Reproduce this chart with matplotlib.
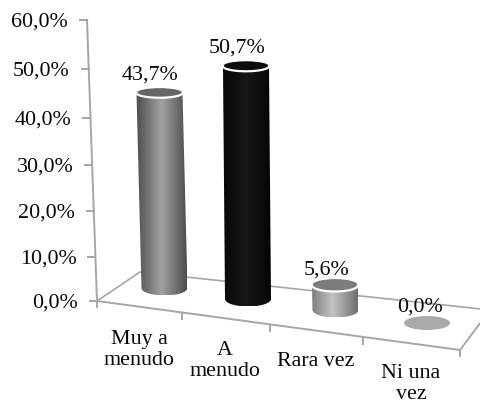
import numpy as np
import matplotlib

matplotlib.use("Agg")
import matplotlib.pyplot as plt
from matplotlib.patches import Ellipse, PathPatch
from matplotlib.path import Path

categories = ["Muy a\nmenudo", "A\nmenudo", "Rara vez", "Ni una\nvez"]
values = [43.7, 50.7, 5.6, 0.0]
value_labels = ["43,7%", "50,7%", "5,6%", "0,0%"]
tick_values = [0, 10, 20, 30, 40, 50, 60]
tick_labels = ["0,0%", "10,0%", "20,0%", "30,0%", "40,0%", "50,0%", "60,0%"]

# cylinder placement on the floor (pixels) and how much depth shrinks each one
base_x = [164.5, 248, 335.5, 427]
base_y = [288, 299, 310, 323]
depth = [0.97, 0.99, 1.0, 1.0]
half_w = 23
half_h = 7.5
# caps look flatter the higher they sit
cap_h = [4.8, 5.0, 6.2, 7.0]
lean = [-5, -2, -0.5, 0]
edge_tone = ["#4d4d4d", "#050505", "#6e6e6e", "#aaaaaa"]
mid_tone = ["#a2a2a2", "#181818", "#c4c4c4", "#aaaaaa"]
top_tone = ["#666666", "#0c0c0c", "#7c7c7c", "#aaaaaa"]
label_xy = [(150, 75), (237, 48), (327, 270), (420, 307)]
cat_xy = [(139, 350), (225, 361), (316, 362), (411, 384)]

GRID = "#a6a6a6"
INK = "#080808"
plt.rcParams["font.family"] = ["Liberation Serif", "DejaVu Serif"]


def value_height(v):
    # the vertical axis is foreshortened slightly towards the top
    return 4.383 * v + 0.005 * v**2


def axis_pos(v):
    y = 301 - value_height(v)
    return 97 - 10 * (301 - y) / 281, y


fig = plt.figure(figsize=(4.81, 4.05), dpi=100)
ax = fig.add_axes([0, 0, 1, 1])

# vertical axis and its ticks
x0, y0 = axis_pos(tick_values[0])
x1, y1 = axis_pos(tick_values[-1])
ax.plot([x0, x1], [y0, y1], color=GRID, lw=1.4, zorder=1)
for v, lab in zip(tick_values, tick_labels):
    x, y = axis_pos(v)
    ax.plot([x - 7, x], [y, y], color=GRID, lw=1.4, zorder=1)
    ax.text(x - 19, y + 2, lab, ha="right", va="center", fontsize=15.8, color=INK)

# floor outline
ax.plot([97, 140, 481], [301, 272, 309], color=GRID, lw=1.2, zorder=1)
ax.plot([97, 460, 481], [301, 350, 322], color=GRID, lw=1.4, zorder=1)
for x, y in [(97, 301), (182, 313), (270, 325), (363, 337.5), (460, 350)]:
    ax.plot([x, x], [y, y + 6], color=GRID, lw=1.4, zorder=1)

# cylinders
for i, v in enumerate(values):
    cx, by = base_x[i], base_y[i]
    if v == 0:
        ax.add_patch(Ellipse((cx, by), 2 * half_w, 2 * cap_h[i], fc=top_tone[i], ec="none", zorder=3))
    else:
        top_y = by - value_height(v) * depth[i]
        top_x = cx + lean[i]
        t = np.linspace(np.pi, 0, 40)
        bx = cx + half_w * np.cos(t)
        bz = by + half_h * np.sin(t)
        verts = [(top_x - half_w, top_y)] + list(zip(bx, bz)) + [(top_x + half_w, top_y)]
        body = PathPatch(Path(verts + [verts[0]]), fc="none", ec="none", zorder=3)
        ax.add_patch(body)

        # horizontal shading: dark at the edges, lighter down the middle
        cmap = matplotlib.colors.LinearSegmentedColormap.from_list(
            "cyl", [edge_tone[i], mid_tone[i], edge_tone[i]]
        )
        grad = np.linspace(0, 1, 128).reshape(1, -1)
        img = ax.imshow(
            grad,
            cmap=cmap,
            aspect="auto",
            extent=(cx - half_w - 5, cx + half_w, by + half_h, top_y),
            zorder=3,
        )
        img.set_clip_path(body)

        ax.add_patch(Ellipse((top_x, top_y), 2 * half_w, 2 * cap_h[i], fc=top_tone[i], ec="none", zorder=4))
        t = np.linspace(0, np.pi, 40)
        ax.plot(
            top_x + half_w * np.cos(t),
            top_y + cap_h[i] * np.sin(t),
            color="white",
            lw=1.6,
            zorder=5,
        )

for (x, y), lab in zip(label_xy, value_labels):
    ax.text(x, y, lab, ha="center", va="center", fontsize=15.8, color=INK, zorder=6)

for (x, y), lab in zip(cat_xy, categories):
    ax.text(x, y, lab, ha="center", va="center", fontsize=15.8, linespacing=1.2, color=INK)

ax.set_xlim(0, 481)
ax.set_ylim(405, 0)
ax.axis("off")
fig.savefig("out.png", dpi=100, facecolor="white")
